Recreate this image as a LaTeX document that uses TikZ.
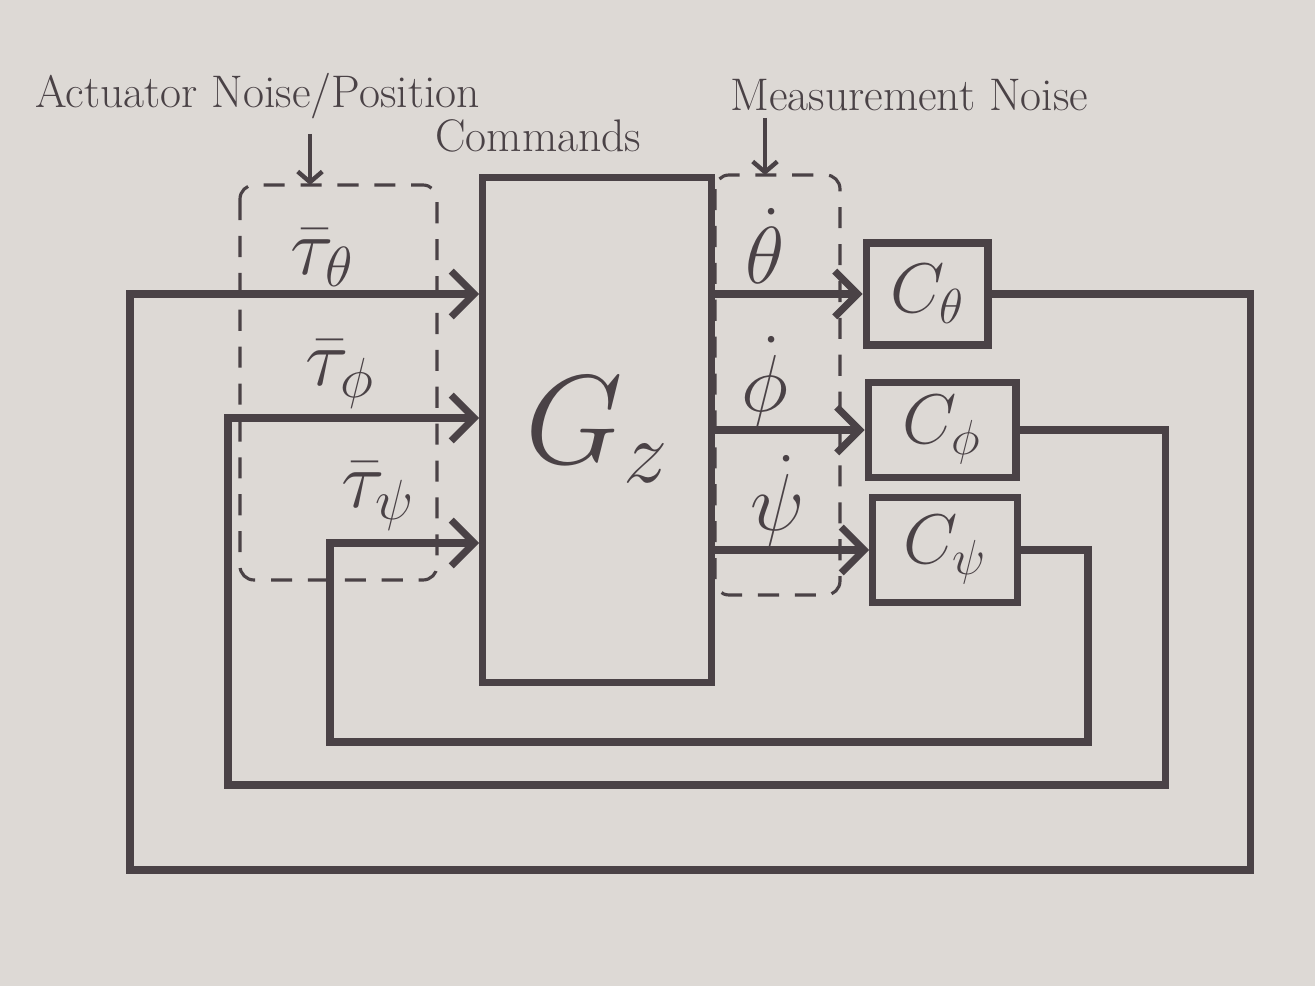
\RequirePackage{fix-cm}
\documentclass[tikz,border=0pt]{standalone}
\usepackage{amsmath}
\usepackage{tikz}
\usetikzlibrary{arrows.meta}
\definecolor{ink}{RGB}{74,66,70}
\definecolor{paper}{RGB}{221,217,213}

\begin{document}
\begin{tikzpicture} [x = 0.02cm, y = -0.02cm, ink, line width = 4pt,
  >={Straight Barb[length = 13pt, width = 26pt]},
  blk/.style = {draw, inner sep = 0pt},
  noise/.style = {line width = 1.8pt, rounded corners = 8pt, dash pattern = on 12pt off 9pt},
  lbl/.style = {font = \fontsize{46}{52}\selectfont, inner sep = 0pt},
  txt/.style = {font = \fontsize{26}{30}\selectfont, inner sep = 1pt},
  tick/.style = {line width = 2.5pt, -{Straight Barb[length = 6pt, width = 14pt]}}]
\fill[paper] (0,0) rectangle (1315,986);
% noise regions
\coordinate (act1) at (240,185);
\coordinate (act2) at (437,580);
\coordinate (mea1) at (715,175);
\coordinate (mea2) at (840,595);
\draw[noise] (act1) rectangle (act2);
\draw[noise] (mea1) rectangle (mea2);
% blocks
\node[blk, font = \fontsize{72}{80}\selectfont, minimum width = 4.58cm, minimum height = 10.12cm] (g) at (597,430) {$G_z$};
\node[blk, font = \fontsize{40}{46}\selectfont, minimum width = 2.44cm, minimum height = 2.04cm] (ct) at (927,294) {$C_\theta$};
\node[blk, font = \fontsize{40}{46}\selectfont, minimum width = 2.96cm, minimum height = 1.9cm] (cp) at (942,430) {$C_\phi$};
\node[blk, font = \fontsize{40}{46}\selectfont, minimum width = 2.9cm, minimum height = 2.1cm] (cs) at (945,550) {$C_\psi$};
\node[lbl] (tt) at (322,258) {$\bar\tau_\theta$};
\node[lbl] (tp) at (340,374) {$\bar\tau_\phi$};
\node[lbl] (ts) at (378,496) {$\bar\tau_\psi$};
\node[lbl] (dt) at (765,246) {$\dot\theta$};
\node[lbl] (dp) at (765,382) {$\dot\phi$};
\node[lbl] (ds) at (778,501) {$\dot\psi$};
\node[txt, anchor = west] (an) at (30,96) {Actuator Noise/Position};
\node[txt, anchor = west] (cm) at (430,136) {Commands};
\node[txt, anchor = west] (mn) at (725,95) {Measurement Noise};
\coordinate (a0) at (310,134);
\coordinate (m0) at (765,118);
\draw[tick] (a0) -- (a0 |- act1);
\draw[tick] (m0) -- (m0 |- mea1);
% plant outputs
\draw[->] (g.east |- ct) -- (ct);
\draw[->] (g.east |- cp) -- (cp);
\draw[->] (g.east |- cs) -- (cs);
% feedback loops
\coordinate (p1) at (228,418);
\coordinate (p2) at (330,543);
\draw[->] (ct.east) -| (1250,870) -| (130,294) -- (g.west |- ct);
\draw[->] (cp.east) -| (1165,785) -| (p1) -- (p1 -| g.west);
\draw[->] (cs.east) -| (1088,742) -| (p2) -- (p2 -| g.west);
\end{tikzpicture}
\end{document}
